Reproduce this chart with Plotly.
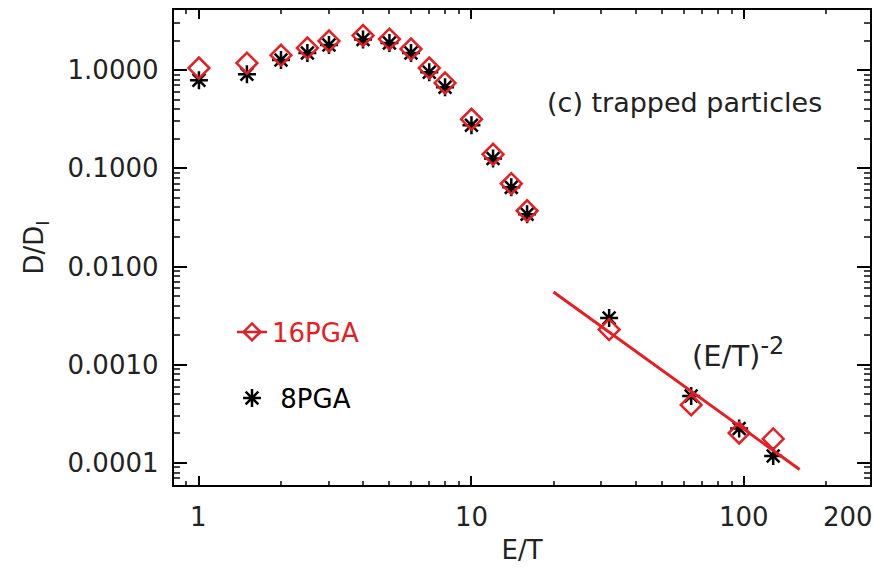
import plotly.graph_objects as go
import math

# ---- data ----
energy = [1, 1.5, 2, 2.5, 3, 4, 5, 6, 7, 8, 10, 12, 14, 16, 32, 64, 96, 128]
d_16pga = [1.05, 1.18, 1.42, 1.68, 1.98, 2.25, 2.07, 1.64, 1.05, 0.74, 0.316, 0.139,
           0.070, 0.037, 0.00228, 0.00039, 0.000202, 0.000176]
d_8pga = [0.79, 0.91, 1.27, 1.49, 1.80, 2.05, 1.89, 1.49, 0.95, 0.67, 0.275, 0.126,
          0.064, 0.034, 0.0030, 0.00048, 0.000224, 0.000118]
fit_x = [20, 160]
fit_y = [0.0055, 0.000086]

# x tick labels (value where label is centred, text)
x_label_pos = [1, 10, 100, 241]
x_label_text = ["1", "10", "100", "200"]

RED = "rgb(230,30,36)"
FONT = "DejaVu Sans"
FS = 26

fig = go.Figure()

fig.add_trace(go.Scatter(
    x=energy, y=d_8pga, mode="markers", showlegend=False,
    marker=dict(symbol="asterisk-open", size=15, color="black",
                line=dict(color="black", width=2.5))))
fig.add_trace(go.Scatter(
    x=energy, y=d_16pga, mode="markers", showlegend=False,
    marker=dict(symbol="diamond-open", size=16, color=RED,
                line=dict(color=RED, width=2.5))))
fig.add_trace(go.Scatter(
    x=fit_x, y=fit_y, mode="lines", showlegend=False,
    line=dict(color=RED, width=3)))

# legend entries
fig.add_trace(go.Scatter(
    x=[None], y=[None], mode="lines+markers", name="16PGA", legend="legend",
    line=dict(color=RED, width=2.5),
    marker=dict(symbol="diamond-open", size=13, color=RED,
                line=dict(color=RED, width=2.5))))
fig.add_trace(go.Scatter(
    x=[None], y=[None], mode="markers", name="\u00a08PGA", legend="legend2",
    marker=dict(symbol="asterisk-open", size=15, color="black",
                line=dict(color="black", width=2.5))))

axis_common = dict(
    type="log", showgrid=False, zeroline=False, showline=True, automargin=False,
    linecolor="black", linewidth=2, mirror="allticks", ticks="inside",
    tickcolor="black", tickfont=dict(family=FONT, size=FS, color="#222"),
    tickmode="linear", tick0=0, dtick=1,
)

fig.update_xaxes(
    **axis_common,
    range=[math.log10(0.81), math.log10(290)],
    ticklen=9, tickwidth=2, showticklabels=False,
    minor=dict(dtick="D1", ticks="inside", ticklen=4, tickwidth=1.5, tickcolor="#444"),
    title=dict(text="E/T", font=dict(family=FONT, size=FS, color="#222"),
               standoff=55),
)
fig.update_yaxes(
    **axis_common,
    range=[-4.224, 0.612], tickformat=".4f", ticksuffix="\u00a0",
    ticklen=13, tickwidth=2,
    minor=dict(dtick="D1", ticks="inside", ticklen=6, tickwidth=1.5, tickcolor="#444"),
    title=dict(text="D/D<sub>I</sub>", font=dict(family=FONT, size=FS, color="#222"),
               standoff=16),
)

for pos, txt in zip(x_label_pos, x_label_text):
    fig.add_annotation(x=math.log10(pos), y=0, xref="x", yref="paper",
                       yanchor="middle", yshift=-32, text=txt, showarrow=False,
                       font=dict(family=FONT, size=FS, color="#222"))

fig.add_annotation(x=0.533, y=0.806, xref="paper", yref="paper",
                   xanchor="left", yanchor="middle", text="(c) trapped particles",
                   showarrow=False, font=dict(family=FONT, size=FS + 1, color="#222"))
fig.add_annotation(x=(690 - 174) / 696, y=(485 - 352) / 475, xref="paper", yref="paper",
                   xanchor="left", yanchor="middle",
                   text="(E/T)<sup><span style='font-size:24px'>-2</span></sup>",
                   showarrow=False, font=dict(family=FONT, size=FS + 3, color="#222"))

fig.update_layout(
    width=873, height=568,
    margin=dict(l=174, r=3, t=10, b=83),
    paper_bgcolor="white", plot_bgcolor="white",
    legend=dict(x=(232 - 174) / 696, y=(485 - 332) / 475, xanchor="left", yanchor="middle",
                bgcolor="rgba(0,0,0,0)", font=dict(family=FONT, size=FS, color=RED)),
    legend2=dict(x=(232 - 174) / 696, y=(485 - 398) / 475, xanchor="left", yanchor="middle",
                 bgcolor="rgba(0,0,0,0)", font=dict(family=FONT, size=FS, color="black")),
)

fig.write_html("out.html")
